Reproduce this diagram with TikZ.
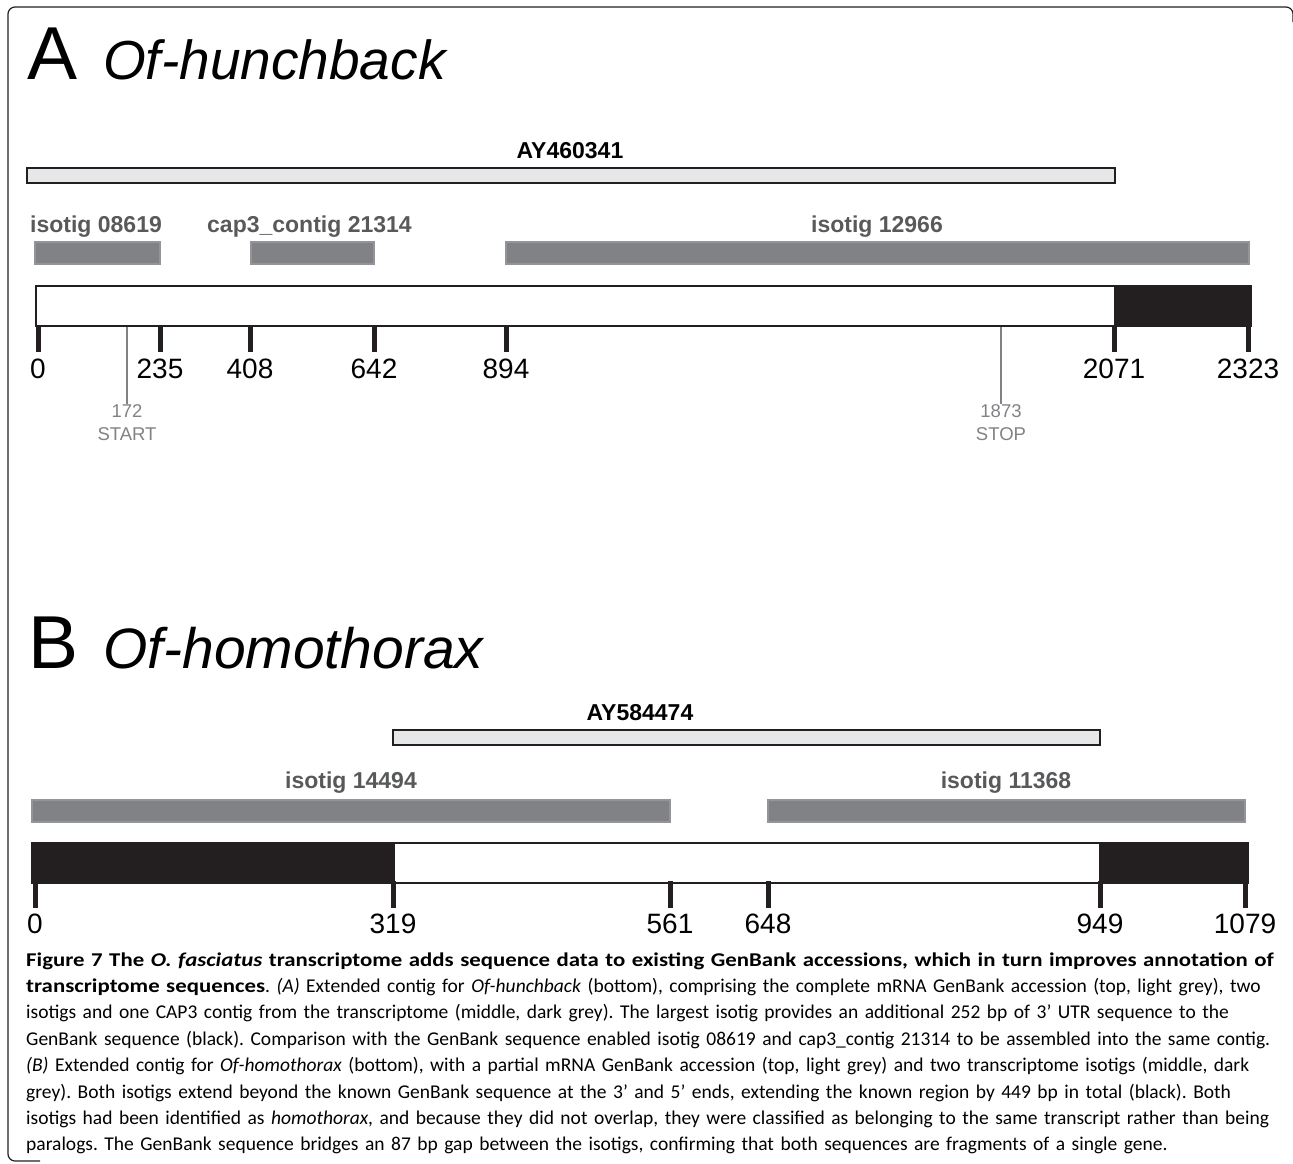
\documentclass[tikz,border=0pt]{standalone}
\usepackage{fontspec}
\setmainfont{Liberation Sans}
\newfontfamily\capfont[BoldFeatures={FakeStretch=1.17}, BoldItalicFeatures={FakeStretch=1.17}]{Carlito}
\definecolor{ink}{HTML}{231F20}
\definecolor{lightfill}{HTML}{E6E7E8}
\definecolor{isofill}{HTML}{808285}
\definecolor{isoline}{HTML}{939598}
\definecolor{isotext}{HTML}{58595B}
\definecolor{codon}{HTML}{808285}
\newcommand{\fs}[1]{\fontsize{#1}{#1}\selectfont}
\frenchspacing

\begin{document}
\begin{tikzpicture}[x=1pt, y=-1pt,
    lightbar/.style={draw=ink, fill=lightfill, line width=2},
    isobar/.style={draw=isoline, fill=isofill, line width=1.5},
    contig/.style={draw=ink, line width=2},
    utr/.style={fill=ink},
    tickline/.style={ink, line width=5},
    codonline/.style={codon, line width=1.5},
    num/.style={anchor=base, inner sep=0, font=\fs{28}},
    acc/.style={anchor=base, inner sep=0, font=\fs{23}\bfseries},
    isolbl/.style={anchor=base, inner sep=0, text=isotext, font=\fs{23}\bfseries},
    codonlbl/.style={anchor=north, inner sep=0, align=center, text=codon, font=\fontsize{18.5}{23.5}\selectfont},
    letter/.style={anchor=base west, inner sep=0, font=\fs{75}},
    gene/.style={anchor=base west, inner sep=0, font=\fs{55}\itshape}]
    \useasboundingbox (0,0) rectangle (1293,1163);
    \draw[ink, line width=1.2, rounded corners=7] (1293,22) -- (1293,7) -- (8,7) -- (8,1161) -- (40,1161);

    % A: hunchback
    \node[letter] (lettA) at (27,79) {A};
    \node[gene] (geneA) at (103,79) {Of-hunchback};

    \draw[lightbar] (27,168) rectangle (1115,183);
    \node[acc] (ayA) at (570,158) {AY460341};

    \draw[isobar] (35,242) rectangle (160,264);
    \draw[isobar] (251,242) rectangle (374,264);
    \draw[isobar] (506,242) rectangle (1249,264);
    \node[isolbl, anchor=base west] (iso08619) at (30,232) {isotig 08619};
    \node[isolbl, anchor=base west] (cap21314) at (207,232) {cap3\_contig 21314};
    \node[isolbl] (iso12966) at (877,232) {isotig 12966};

    \fill[white] (36,286) rectangle (1251,326);
    \fill[utr] (1114,286) rectangle (1251,326);
    \draw[contig] (36,286) rectangle (1251,326);
    \foreach \x/\n in {38/0, 160/235, 250/408, 374/642, 506/894, 1114/2071, 1248/2323} {
        \draw[tickline] (\x,325) -- (\x,352);
        \node[num] (tA\n) at (\x,378) {\n};
    }

    \node[codonlbl] (start) at (127,404) {172\\START};
    \node[codonlbl] (stop) at (1001,404) {1873\\STOP};
    \draw[codonline] (127,327) -- (start.north);
    \draw[codonline] (1001,327) -- (stop.north);

    % B: homothorax
    \node[letter] (lettB) at (28,668) {B};
    \node[gene, font=\fs{57}\itshape] (geneB) at (103,668) {Of-homothorax};

    \draw[lightbar] (393,730) rectangle (1100,745);
    \node[acc] (ayB) at (640,720) {AY584474};

    \draw[isobar] (32,800) rectangle (670,822);
    \draw[isobar] (768,800) rectangle (1245,822);
    \node[isolbl] (iso14494) at (351,788) {isotig 14494};
    \node[isolbl] (iso11368) at (1006,788) {isotig 11368};

    \fill[white] (32,843) rectangle (1248,883);
    \fill[utr] (32,843) rectangle (395,883);
    \fill[utr] (1099,843) rectangle (1248,883);
    \draw[contig] (32,843) rectangle (1248,883);
    \foreach \x/\n in {35/0, 393/319, 670/561, 768/648, 1100/949, 1245/1079} {
        \draw[tickline] (\x,881) -- (\x,908);
        \node[num] (tB\n) at (\x,933) {\n};
    }

    % caption
    \node[anchor=base west, inner sep=0, text width=1265, align=left,
          font=\capfont\fontsize{19.5}{26.4}\selectfont] (caption) at (26,966) {%
        \textbf{Figure 7 The \textit{O. fasciatus} transcriptome adds sequence data to existing GenBank accessions, which in turn improves annotation of}\\
        \textbf{transcriptome sequences}. \textit{(A)} Extended contig for \textit{Of-hunchback} (bottom), comprising the complete mRNA GenBank accession (top, light grey), two\\
        isotigs and one CAP3 contig from the transcriptome (middle, dark grey). The largest isotig provides an additional 252 bp of 3’ UTR sequence to the\\
        GenBank sequence (black). Comparison with the GenBank sequence enabled isotig 08619 and cap3\_contig 21314 to be assembled into the same contig.\\
        \textit{(B)} Extended contig for \textit{Of-homothorax} (bottom), with a partial mRNA GenBank accession (top, light grey) and two transcriptome isotigs (middle, dark\\
        grey). Both isotigs extend beyond the known GenBank sequence at the 3’ and 5’ ends, extending the known region by 449 bp in total (black). Both\\
        isotigs had been identified as \textit{homothorax}, and because they did not overlap, they were classified as belonging to the same transcript rather than being\\
        paralogs. The GenBank sequence bridges an 87 bp gap between the isotigs, confirming that both sequences are fragments of a single gene.};
\end{tikzpicture}
\end{document}
